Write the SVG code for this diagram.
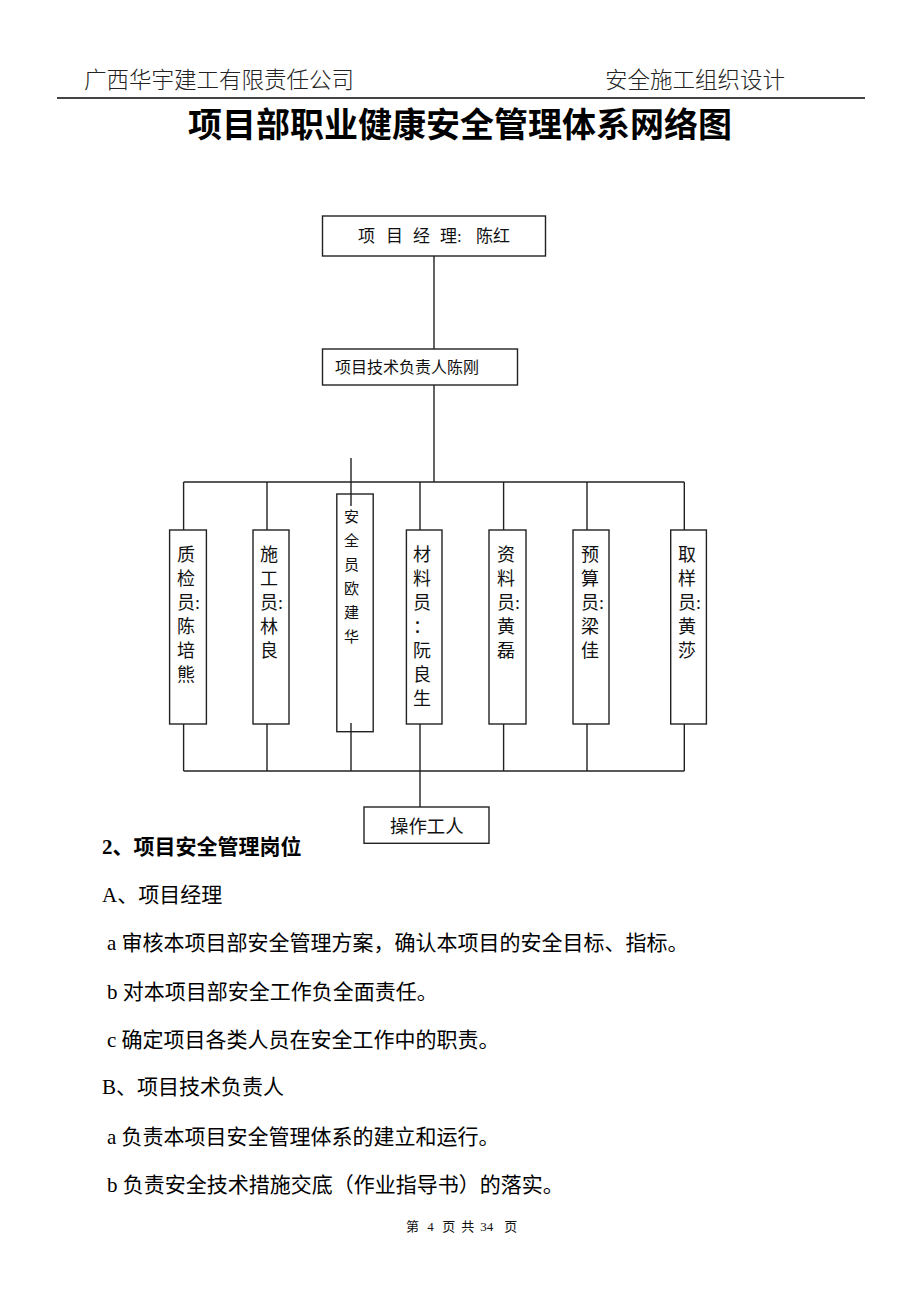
<svg xmlns="http://www.w3.org/2000/svg" width="920" height="1302" viewBox="0 0 920 1302">
<style>
.hdr{font-family:"Noto Sans CJK SC","Liberation Sans",sans-serif;font-size:22.5px;font-weight:300;fill:#222}
.title{font-family:"Noto Sans CJK SC","Liberation Sans",sans-serif;font-size:34px;font-weight:700;fill:#000}
.box{fill:#fff;stroke:#222;stroke-width:1.4}
.ln{stroke:#222;stroke-width:1.4;fill:none}
.t{font-family:"Liberation Serif","Noto Sans CJK SC",serif;fill:#111}
.bx{font-family:"Liberation Serif","Noto Sans CJK SC",serif;font-size:18px;fill:#111}
.sm{font-family:"Liberation Serif","Noto Sans CJK SC",serif;font-size:15px;fill:#111}
.body{font-family:"Liberation Serif","Noto Sans CJK SC",serif;font-size:21px;fill:#000}
</style>
<rect width="920" height="1302" fill="#fff"/>
<text class="hdr" x="84" y="88">广西华宇建工有限责任公司</text>
<text class="hdr" x="605" y="88">安全施工组织设计</text>
<line x1="57" y1="98" x2="865" y2="98" stroke="#444" stroke-width="2"/>
<text class="title" x="460" y="137" text-anchor="middle">项目部职业健康安全管理体系网络图</text>

<g id="pm">
<rect class="box" x="322.5" y="216" width="223" height="40"/>
<text class="t" font-size="17" y="242"><tspan x="358">项</tspan><tspan x="386">目</tspan><tspan x="413">经</tspan><tspan x="440">理</tspan><tspan x="457">:</tspan><tspan x="476">陈</tspan><tspan x="493">红</tspan></text>
</g>

<g id="tech">
<rect class="box" x="322.5" y="349" width="195" height="36"/>
<text class="t" font-size="16" x="335" y="373">项目技术负责人陈刚</text>
</g>

<g id="zhijian">
<rect class="box" x="169.6" y="530" width="36.8" height="194"/>
<text class="bx" x="177" y="561">质</text>
<text class="bx" x="177" y="585">检</text>
<text class="bx" x="177" y="609">员:</text>
<text class="bx" x="177" y="633">陈</text>
<text class="bx" x="177" y="657">培</text>
<text class="bx" x="177" y="681">熊</text>
</g>

<g id="shigong">
<rect class="box" x="253" y="530" width="36" height="194"/>
<text class="bx" x="260" y="561">施</text>
<text class="bx" x="260" y="585">工</text>
<text class="bx" x="260" y="609">员:</text>
<text class="bx" x="260" y="633">林</text>
<text class="bx" x="260" y="657">良</text>
</g>

<g id="anquan">
<rect class="box" x="336.8" y="494" width="36.4" height="237.7" fill="none" style="fill:none"/>
<text class="sm" x="344" y="522">安</text>
<text class="sm" x="344" y="546">全</text>
<text class="sm" x="344" y="570">员</text>
<text class="sm" x="344" y="594">欧</text>
<text class="sm" x="344" y="618">建</text>
<text class="sm" x="344" y="642">华</text>
</g>

<g id="cailiao">
<rect class="box" x="406.4" y="530" width="35.6" height="194"/>
<text class="bx" x="413" y="561">材</text>
<text class="bx" x="413" y="585">料</text>
<text class="bx" x="413" y="609">员</text>
<text class="bx" x="413" y="633">：</text>
<text class="bx" x="413" y="657">阮</text>
<text class="bx" x="413" y="681">良</text>
<text class="bx" x="413" y="705">生</text>
</g>

<g id="ziliao">
<rect class="box" x="489" y="530" width="37" height="194"/>
<text class="bx" x="497" y="561">资</text>
<text class="bx" x="497" y="585">料</text>
<text class="bx" x="497" y="609">员:</text>
<text class="bx" x="497" y="633">黄</text>
<text class="bx" x="497" y="657">磊</text>
</g>

<g id="yusuan">
<rect class="box" x="573" y="530" width="36" height="194"/>
<text class="bx" x="581" y="561">预</text>
<text class="bx" x="581" y="585">算</text>
<text class="bx" x="581" y="609">员:</text>
<text class="bx" x="581" y="633">梁</text>
<text class="bx" x="581" y="657">佳</text>
</g>

<g id="quyang">
<rect class="box" x="670.7" y="530" width="35.7" height="194"/>
<text class="bx" x="678" y="561">取</text>
<text class="bx" x="678" y="585">样</text>
<text class="bx" x="678" y="609">员:</text>
<text class="bx" x="678" y="633">黄</text>
<text class="bx" x="678" y="657">莎</text>
</g>

<g id="workers">
<rect class="box" x="364" y="807" width="125" height="36.3"/>
<text class="t" font-size="18.4" x="390" y="833">操作工人</text>
</g>

<g id="connectors">
<line class="ln" x1="434" y1="256" x2="434" y2="349"/>
<line class="ln" x1="434" y1="385" x2="434" y2="482"/>
<line class="ln" x1="183.6" y1="482" x2="684.3" y2="482"/>
<line class="ln" x1="183.6" y1="482" x2="183.6" y2="530"/>
<line class="ln" x1="267" y1="482" x2="267" y2="530"/>
<line class="ln" x1="351" y1="458" x2="351" y2="506"/>
<line class="ln" x1="420" y1="482" x2="420" y2="530"/>
<line class="ln" x1="503.6" y1="482" x2="503.6" y2="530"/>
<line class="ln" x1="587" y1="482" x2="587" y2="530"/>
<line class="ln" x1="684.3" y1="482" x2="684.3" y2="530"/>
<line class="ln" x1="183.6" y1="771" x2="684.3" y2="771"/>
<line class="ln" x1="183.6" y1="724" x2="183.6" y2="771"/>
<line class="ln" x1="267" y1="724" x2="267" y2="771"/>
<line class="ln" x1="351" y1="723" x2="351" y2="771"/>
<line class="ln" x1="420" y1="724" x2="420" y2="807"/>
<line class="ln" x1="503.6" y1="724" x2="503.6" y2="771"/>
<line class="ln" x1="587" y1="724" x2="587" y2="771"/>
<line class="ln" x1="684.3" y1="724" x2="684.3" y2="771"/>
</g>

<text class="body" x="102" y="854" font-weight="700">2、项目安全管理岗位</text>
<text class="body" x="102" y="902">A、项目经理</text>
<text class="body" x="107" y="950">a 审核本项目部安全管理方案，确认本项目的安全目标、指标。</text>
<text class="body" x="107" y="999">b 对本项目部安全工作负全面责任。</text>
<text class="body" x="107" y="1047">c 确定项目各类人员在安全工作中的职责。</text>
<text class="body" x="102" y="1094">B、项目技术负责人</text>
<text class="body" x="107" y="1144">a 负责本项目安全管理体系的建立和运行。</text>
<text class="body" x="107" y="1192">b 负责安全技术措施交底（作业指导书）的落实。</text>
<text class="t" font-size="13" y="1231"><tspan x="406">第</tspan><tspan x="424"> 4</tspan><tspan x="439"> 页</tspan><tspan x="458"> 共</tspan><tspan x="477"> 34</tspan><tspan x="501"> 页</tspan></text>
</svg>
